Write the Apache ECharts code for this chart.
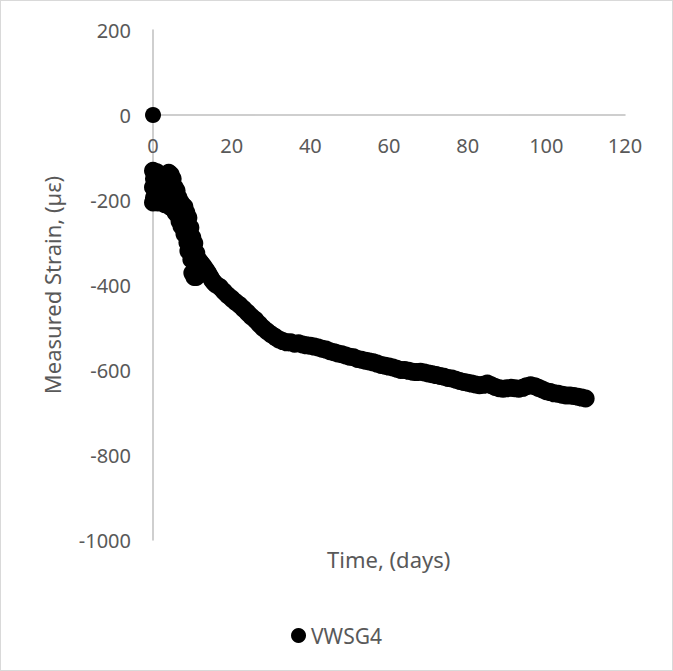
<!DOCTYPE html>
<html>
<head>
<meta charset="utf-8">
<script src="https://cdn.jsdelivr.net/npm/echarts@6/dist/echarts.min.js"></script>
<style>
  html, body { margin: 0; padding: 0; background: #ffffff; }
  #chart { position: absolute; left: 0; top: 0; width: 673px; height: 671px; }
  #frame { position: absolute; left: 0; top: 0; width: 673px; height: 671px; box-sizing: border-box; border: 1px solid #d9d9d9; pointer-events: none; }
</style>
</head>
<body>
<div id="chart"></div>
<div id="frame"></div>
<script>
// ---- data ----
const seriesName = 'VWSG4';
const xAxisTitle = 'Time, (days)';
const yAxisTitle = 'Measured Strain, (µε)';
const xTicks = [0, 20, 40, 60, 80, 100, 120];
const yTicks = [200, 0, -200, -400, -600, -800, -1000];

// time in days
const days = [
  0,
  0.00, 0.00, 0.00, 0.25, 0.25, 0.50, 0.50, 0.75, 1.00, 1.00,
  1.25, 1.50, 1.75, 1.75, 2.00, 2.25, 2.50, 2.75, 3.00, 3.00,
  3.25, 3.50, 3.75, 4.00, 4.00, 4.25, 4.50, 4.50, 4.75, 5.00,
  5.00, 5.25, 5.50, 5.75, 6.00, 6.00, 6.25, 6.50, 6.75, 7.00,
  7.00, 7.25, 7.50, 7.75, 8.00, 8.00, 8.25, 8.50, 8.75, 9.00,
  9.00, 9.25, 9.50, 9.75, 10.00, 10.00, 10.25, 10.50, 10.50, 10.75,
  11.00, 11.00, 11.25, 11.50, 11.75, 12.00, 12.25, 12.50, 13.00,
  13.5, 14, 14.5, 15, 15.5, 16,
  17, 18, 19, 20, 21, 22, 23, 24, 25, 26,
  27, 28, 29, 30, 31, 32, 33, 34, 35, 36,
  37, 38, 39, 40, 41, 42, 43, 44, 45, 46,
  47, 48, 49, 50, 51, 52, 53, 54, 55, 56,
  57, 58, 59, 60, 61, 62, 63, 64, 65, 66,
  67, 68, 69, 70, 71, 72, 73, 74, 75, 76,
  77, 78, 79, 80, 81, 82, 83, 84, 85, 86,
  87, 88, 89, 90, 91, 92, 93, 94, 95, 96,
  97, 98, 99, 100, 101, 102, 103, 104, 105, 106,
  107, 108, 109, 110
];
// measured strain in microstrain
const strain = [
  0,
  -131, -170, -206, -150, -195, -140, -205, -165, -135, -190,
  -206, -160, -140, -200, -180, -141, -205, -165, -145, -210,
  -185, -150, -200, -136, -170, -215, -140, -190, -160, -150,
  -220, -195, -170, -230, -178, -210, -235, -195, -250, -205,
  -230, -262, -212, -245, -216, -280, -260, -230, -300, -242,
  -320, -285, -265, -340, -288, -372, -320, -302, -381, -352,
  -325, -381, -360, -340, -368, -346, -362, -352, -358,
  -365, -372, -380, -388, -394, -399,
  -405, -415, -424, -432, -440, -447, -456, -465, -474, -482,
  -492, -501, -509, -516, -522, -528, -532, -535, -535, -538,
  -537, -540, -542, -543, -545, -547, -550, -552, -556, -558,
  -561, -563, -566, -569, -570, -574, -576, -578, -580, -582,
  -585, -588, -590, -592, -594, -597, -600, -600, -602, -604,
  -605, -604, -606, -608, -610, -612, -614, -616, -619, -620,
  -623, -626, -628, -630, -632, -634, -636, -635, -632, -636,
  -640, -643, -644, -643, -642, -643, -644, -642, -638, -636,
  -638, -642, -646, -650, -652, -655, -656, -658, -660, -660,
  -661, -663, -665, -667
];

const textColor = '#595959';
const axisColor = '#bfbfbf';
const fontFam = '"Noto Sans", "Open Sans", sans-serif';

// the very first reading (0, 0) is drawn with the smaller marker seen in the reference
const points = days.map((d, i) => (i === 0 ? { value: [d, strain[i]], symbolSize: 16 } : [d, strain[i]]));

const chart = echarts.init(document.getElementById('chart'), null, { renderer: 'svg' });
chart.setOption({
  backgroundColor: '#ffffff',
  animation: false,
  textStyle: { fontFamily: fontFam },
  grid: { left: 153, right: 48, top: 30, bottom: 131, containLabel: false },
  xAxis: {
    type: 'value',
    min: xTicks[0],
    max: xTicks[xTicks.length - 1],
    interval: 20,
    position: 'bottom',
    offset: -425,
    axisLine: { show: true, onZero: false, lineStyle: { color: axisColor, width: 1.5 } },
    axisTick: { show: false },
    splitLine: { show: false },
    axisLabel: { color: textColor, fontSize: 20, margin: 20, fontFamily: fontFam, formatter: v => String(v) }
  },
  yAxis: {
    type: 'value',
    min: yTicks[yTicks.length - 1],
    max: yTicks[0],
    interval: 200,
    name: yAxisTitle,
    nameLocation: 'middle',
    nameGap: 90,
    nameRotate: 90,
    nameTextStyle: { color: textColor, fontSize: 22, fontFamily: fontFam },
    axisLine: { show: true, onZero: false, lineStyle: { color: axisColor, width: 1.5 } },
    axisTick: { show: false },
    splitLine: { show: false },
    axisLabel: { color: textColor, fontSize: 20, margin: 22, fontFamily: fontFam, formatter: v => String(v) }
  },
  legend: {
    data: [seriesName],
    left: 'center',
    top: 620,
    icon: 'circle',
    itemWidth: 15,
    itemHeight: 15,
    textStyle: { color: textColor, fontSize: 21, fontFamily: fontFam }
  },
  graphic: [{
    type: 'text',
    left: 327,
    top: 548,
    style: { text: xAxisTitle, fill: textColor, font: '22px ' + fontFam }
  }],
  series: [{
    name: seriesName,
    type: 'scatter',
    symbol: 'circle',
    symbolSize: 18,
    itemStyle: { color: '#000000', opacity: 1 },
    data: points
  }]
});
</script>
</body>
</html>
